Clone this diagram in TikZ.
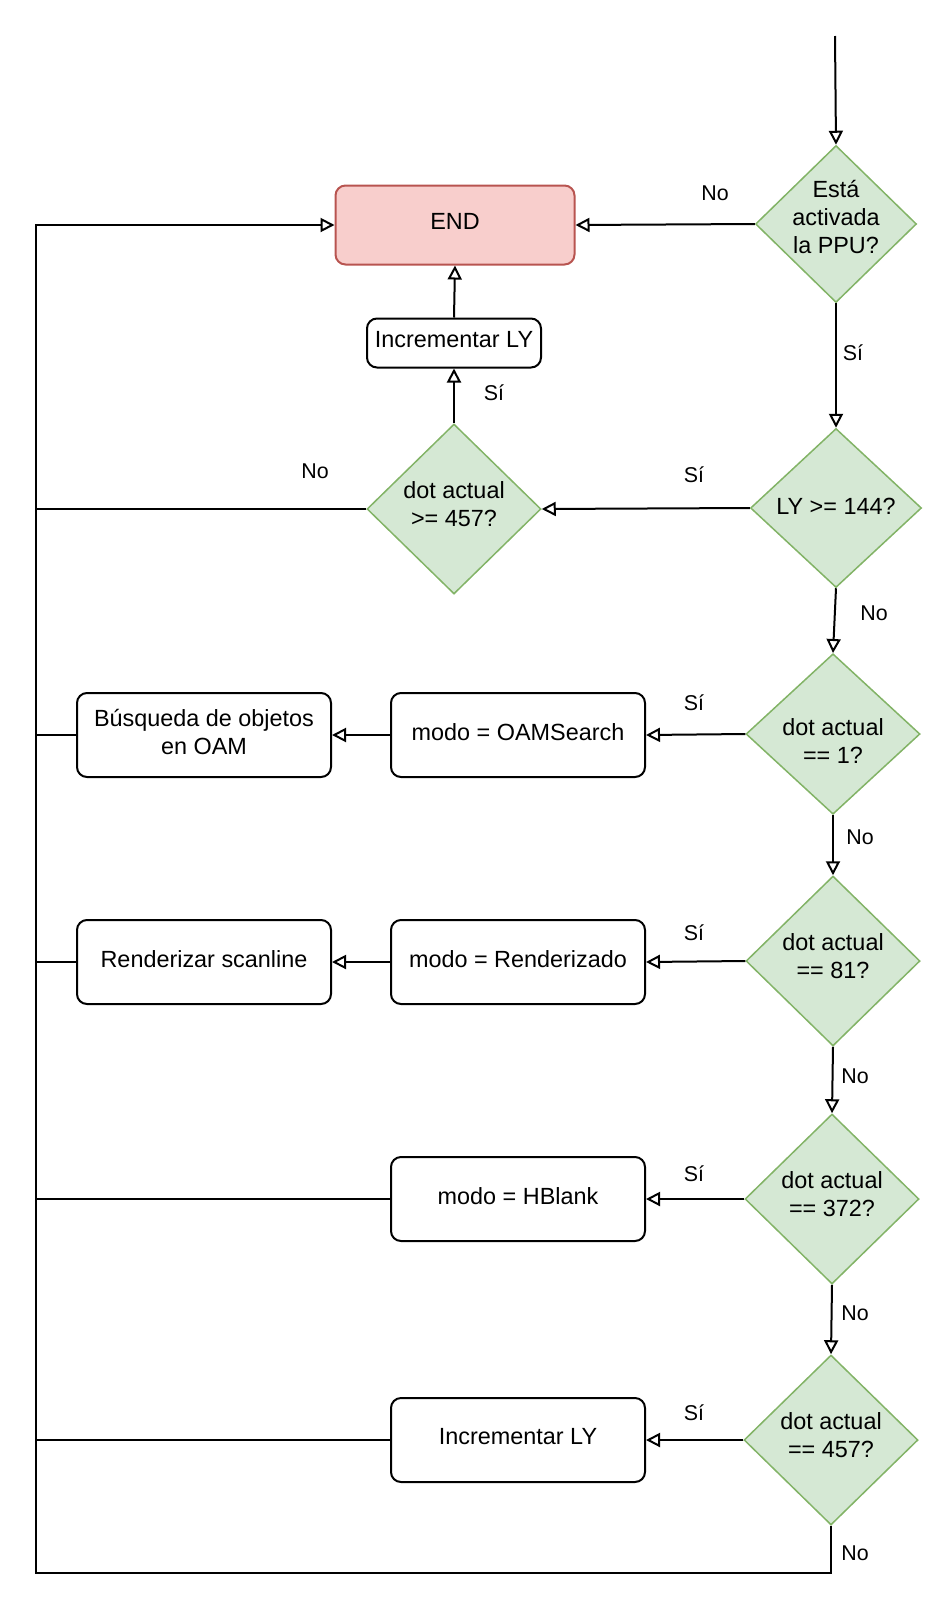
\documentclass[tikz,border=0pt]{standalone}
\usepackage{fontspec}
\setmainfont{Liberation Sans}
\usepackage{xcolor}
\usepackage{tikz}
\usetikzlibrary{shapes.geometric,arrows.meta,positioning}

\definecolor{decfill}{HTML}{D5E8D4}
\definecolor{decline}{HTML}{82B366}
\definecolor{endfill}{HTML}{F8CECC}
\definecolor{endline}{HTML}{B85450}
\newcommand{\boxfont}{\fontsize{11.7}{14}\selectfont}
\newcommand{\lblfont}{\fontsize{10.7}{13}\selectfont}

\begin{document}
\begin{tikzpicture}[x=0.5pt, y=-0.5pt,
    rise/.store in=\textrise, rise=3.1pt,
    decision/.style={diamond, draw=decline, fill=decfill, line width=0.75pt, inner sep=0pt, align=center, font=\boxfont, minimum width=87pt, minimum height=85pt, rise=5.2pt},
    procbox/.style={rectangle, rounded corners=5pt, draw, line width=1pt, align=center, font=\boxfont, minimum width=127pt, minimum height=42pt},
    endbox/.style={procbox, draw=endline, fill=endfill, minimum width=119.5pt, minimum height=39.5pt},
    lbl/.style={font=\lblfont},
    arrow/.style={-{Triangle[open,length=7pt,width=7pt]}, line width=1pt},
    line/.style={line width=1pt},
    every node/.append style={execute at end node={\rule[-\textrise]{0pt}{0pt}}}
]
\useasboundingbox (0,0) rectangle (944,1612);

% Start and end
\coordinate (start) at (835,36);
\node[endbox] (end) at (455,225) {END};

% Decisions
\node[decision, inner sep=-2.1pt, minimum width=80.5pt, minimum height=78pt, rise=6.7pt] (ppu) at (836,224) {Está\\activada\\la PPU?};
\node[decision, minimum width=85.5pt, minimum height=79.5pt, rise=2pt] (ly) at (836,508) {LY >= 144?};
\node[decision] (dotend) at (454,509) {dot actual\\>= 457?};
\node[decision, minimum height=79.5pt, rise=0pt] (dotone) at (833,734) {\rule{0pt}{15.5pt}dot actual\\== 1?};
\node[decision] (dotrender) at (833,961) {dot actual\\== 81?};
\node[decision] (dothblank) at (832,1199) {dot actual\\== 372?};
\node[decision] (dotlast) at (831,1440) {dot actual\\== 457?};

% Processes
\node[procbox, minimum width=87pt, minimum height=24.5pt] (incly) at (454,343) {Incrementar LY};
\node[procbox] (oam) at (518,735) {modo = OAMSearch};
\node[procbox] (search) at (204,735) {Búsqueda de objetos\\en OAM};
\node[procbox] (render) at (518,962) {modo = Renderizado};
\node[procbox] (scan) at (204,962) {Renderizar scanline};
\node[procbox] (hblank) at (518,1199) {modo = HBlank};
\node[procbox] (inclylast) at (518,1440) {Incrementar LY};

% Loop corners
\coordinate (loopbl) at (36,1573);
\coordinate (looptl) at (36,225);

% Connections
\draw[arrow] (start) -- (ppu.north);
\draw[arrow] (ppu.west) -- (end.east);
\draw[arrow] (ppu.south) -- (ly.north);
\draw[arrow] (ly.west) -- (dotend.east);
\draw[arrow] (dotend.north) -- (incly.south);
\draw[arrow] (incly.north) -- (end.south);
\draw[line] (dotend.west) -- (dotend.west -| loopbl);
\draw[arrow] (ly.south) -- (dotone.north);
\draw[arrow] (dotone.west) -- (oam.east);
\draw[arrow] (oam.west) -- (search.east);
\draw[line] (search.west) -- (search.west -| loopbl);
\draw[arrow] (dotone.south) -- (dotrender.north);
\draw[arrow] (dotrender.west) -- (render.east);
\draw[arrow] (render.west) -- (scan.east);
\draw[line] (scan.west) -- (scan.west -| loopbl);
\draw[arrow] (dotrender.south) -- (dothblank.north);
\draw[arrow] (dothblank.west) -- (hblank.east);
\draw[line] (hblank.west) -- (hblank.west -| loopbl);
\draw[arrow] (dothblank.south) -- (dotlast.north);
\draw[arrow] (dotlast.west) -- (inclylast.east);
\draw[line] (inclylast.west) -- (inclylast.west -| loopbl);
\draw[arrow] (dotlast.south) |- (loopbl) -- (looptl) -- (end.west);

% Labels
\node[lbl, rise=0pt] (lppu) at (715,193) {No};
\node[lbl, rise=0pt] (lly) at (853,353) {Sí};
\node[lbl, rise=0pt] (ldotend) at (694,475) {Sí};
\node[lbl, rise=0pt] (lincly) at (494,393) {Sí};
\node[lbl, rise=0pt] (ldotendno) at (315,471) {No};
\node[lbl, rise=0pt] (llyno) at (874,613) {No};
\node[lbl, rise=0pt] (lone) at (694,703) {Sí};
\node[lbl, rise=0pt] (loneno) at (860,837) {No};
\node[lbl, rise=0pt] (lrender) at (694,933) {Sí};
\node[lbl, rise=0pt] (lrenderno) at (855,1076) {No};
\node[lbl, rise=0pt] (lhblank) at (694,1174) {Sí};
\node[lbl, rise=0pt] (lhblankno) at (855,1313) {No};
\node[lbl, rise=0pt] (llast) at (694,1413) {Sí};
\node[lbl, rise=0pt] (llastno) at (855,1553) {No};

\end{tikzpicture}
\end{document}
